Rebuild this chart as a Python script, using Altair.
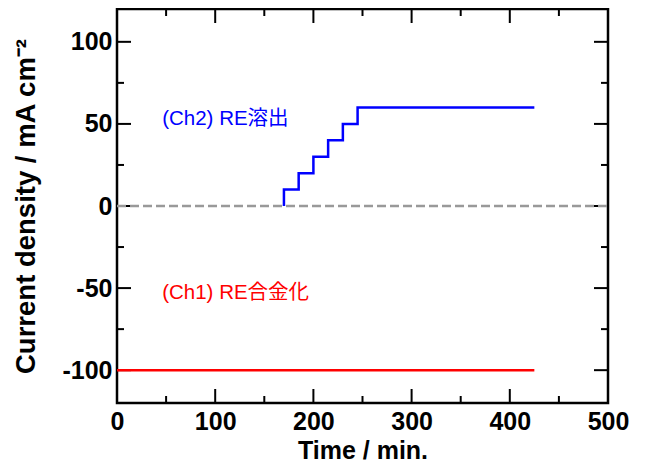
import altair as alt
import pandas as pd

# Data
ch2_time = [170, 170, 185, 200, 215, 230, 245, 425]
ch2_current = [0, 10, 20, 30, 40, 50, 60, 60]
ch1_time = [0, 425]
ch1_current = [-100, -100]
zero_time = [0, 500]
zero_value = [0, 0]
x_ticks = [0, 100, 200, 300, 400, 500]
x_major = [100, 200, 300, 400]
x_minor = [50, 150, 250, 350, 450]
y_ticks = [-100, -50, 0, 50, 100]
y_major = [-100, -50, 0, 50, 100]
y_minor = [-75, -25, 25, 75]
label_text = ["(Ch2) RE溶出", "(Ch1) RE合金化"]
label_time = [46, 46]
label_value = [53, -53]
label_color = ["#0000FF", "#FF0000"]

W, H = 491, 394
FONT = "Liberation Sans, Arial, Noto Sans CJK JP"
LBL = "datum.value < 0 ? '-' + abs(datum.value) : '' + datum.value"

xscale = alt.Scale(domain=[0, 500], nice=False, zero=False)
yscale = alt.Scale(domain=[-120, 120], nice=False, zero=False)

xaxis = alt.Axis(values=x_ticks, title="Time / min.", grid=False, ticks=False, domain=False,
                 labelFont=FONT, labelFontSize=25, labelFontWeight="bold", labelColor="black",
                 labelPadding=6, titleFont=FONT, titleFontSize=25, titleFontWeight="bold",
                 titleColor="black", titleBaseline="alphabetic", titleY=55.5,
                 labelFlush=False, labelExpr=LBL)
yaxis = alt.Axis(values=y_ticks, title="Current density / mA cm⁻²", grid=False, ticks=False, domain=False,
                 labelFont=FONT, labelFontSize=25, labelFontWeight="bold", labelColor="black",
                 labelPadding=5, titleFont=FONT, titleFontSize=27.5, titleFontWeight="bold",
                 titleColor="black", titlePadding=21, labelFlush=False, labelExpr=LBL)

zero_df = pd.DataFrame({"t": zero_time, "v": zero_value})
ch2_df = pd.DataFrame({"t": ch2_time, "v": ch2_current})
ch1_df = pd.DataFrame({"t": ch1_time, "v": ch1_current})
lab_df = pd.DataFrame({"t": label_time, "v": label_value, "label": label_text, "c": label_color})


def xtick_layer(vals, length):
    df = pd.DataFrame({"t": vals})
    top = alt.Chart(df).mark_rule(color="black", strokeWidth=2).encode(
        x=alt.X("t:Q", scale=xscale, axis=xaxis), y=alt.value(0), y2=alt.value(length))
    bot = alt.Chart(df).mark_rule(color="black", strokeWidth=2).encode(
        x=alt.X("t:Q", scale=xscale, axis=xaxis), y=alt.value(H - length), y2=alt.value(H))
    return [top, bot]


def ytick_layer(vals, length):
    df = pd.DataFrame({"v": vals})
    left = alt.Chart(df).mark_rule(color="black", strokeWidth=2).encode(
        y=alt.Y("v:Q", scale=yscale, axis=yaxis), x=alt.value(0), x2=alt.value(length))
    right = alt.Chart(df).mark_rule(color="black", strokeWidth=2).encode(
        y=alt.Y("v:Q", scale=yscale, axis=yaxis), x=alt.value(W - length), x2=alt.value(W))
    return [left, right]


zero = alt.Chart(zero_df).mark_line(color="#999999", strokeWidth=2.5, strokeDash=[9, 4]).encode(
    x=alt.X("t:Q", scale=xscale, axis=xaxis),
    y=alt.Y("v:Q", scale=yscale, axis=yaxis),
)
ch2 = alt.Chart(ch2_df).mark_line(color="#0000FF", strokeWidth=2.5, interpolate="step-after").encode(
    x=alt.X("t:Q", scale=xscale, axis=xaxis),
    y=alt.Y("v:Q", scale=yscale, axis=yaxis),
)
ch1 = alt.Chart(ch1_df).mark_line(color="#FF0000", strokeWidth=2.5).encode(
    x=alt.X("t:Q", scale=xscale, axis=xaxis),
    y=alt.Y("v:Q", scale=yscale, axis=yaxis),
)
labels = alt.Chart(lab_df).mark_text(align="left", baseline="middle", font=FONT, fontSize=20.5).encode(
    x=alt.X("t:Q", scale=xscale, axis=xaxis),
    y=alt.Y("v:Q", scale=yscale, axis=yaxis),
    text="label:N",
    color=alt.Color("c:N", scale=None),
)

layers = xtick_layer(x_major, 14) + xtick_layer(x_minor, 7) \
    + ytick_layer(y_major, 14) + ytick_layer(y_minor, 7) + [zero, ch2, ch1, labels]

chart = alt.layer(*layers).properties(
    width=W, height=H,
    autosize=alt.AutoSizeParams(type="none"),
    padding={"left": 109, "top": 1, "right": 32, "bottom": 60},
    background="white",
).configure_view(stroke="black", strokeWidth=2.5)

chart.save("out.html", embed_options={"renderer": "svg", "actions": False})
